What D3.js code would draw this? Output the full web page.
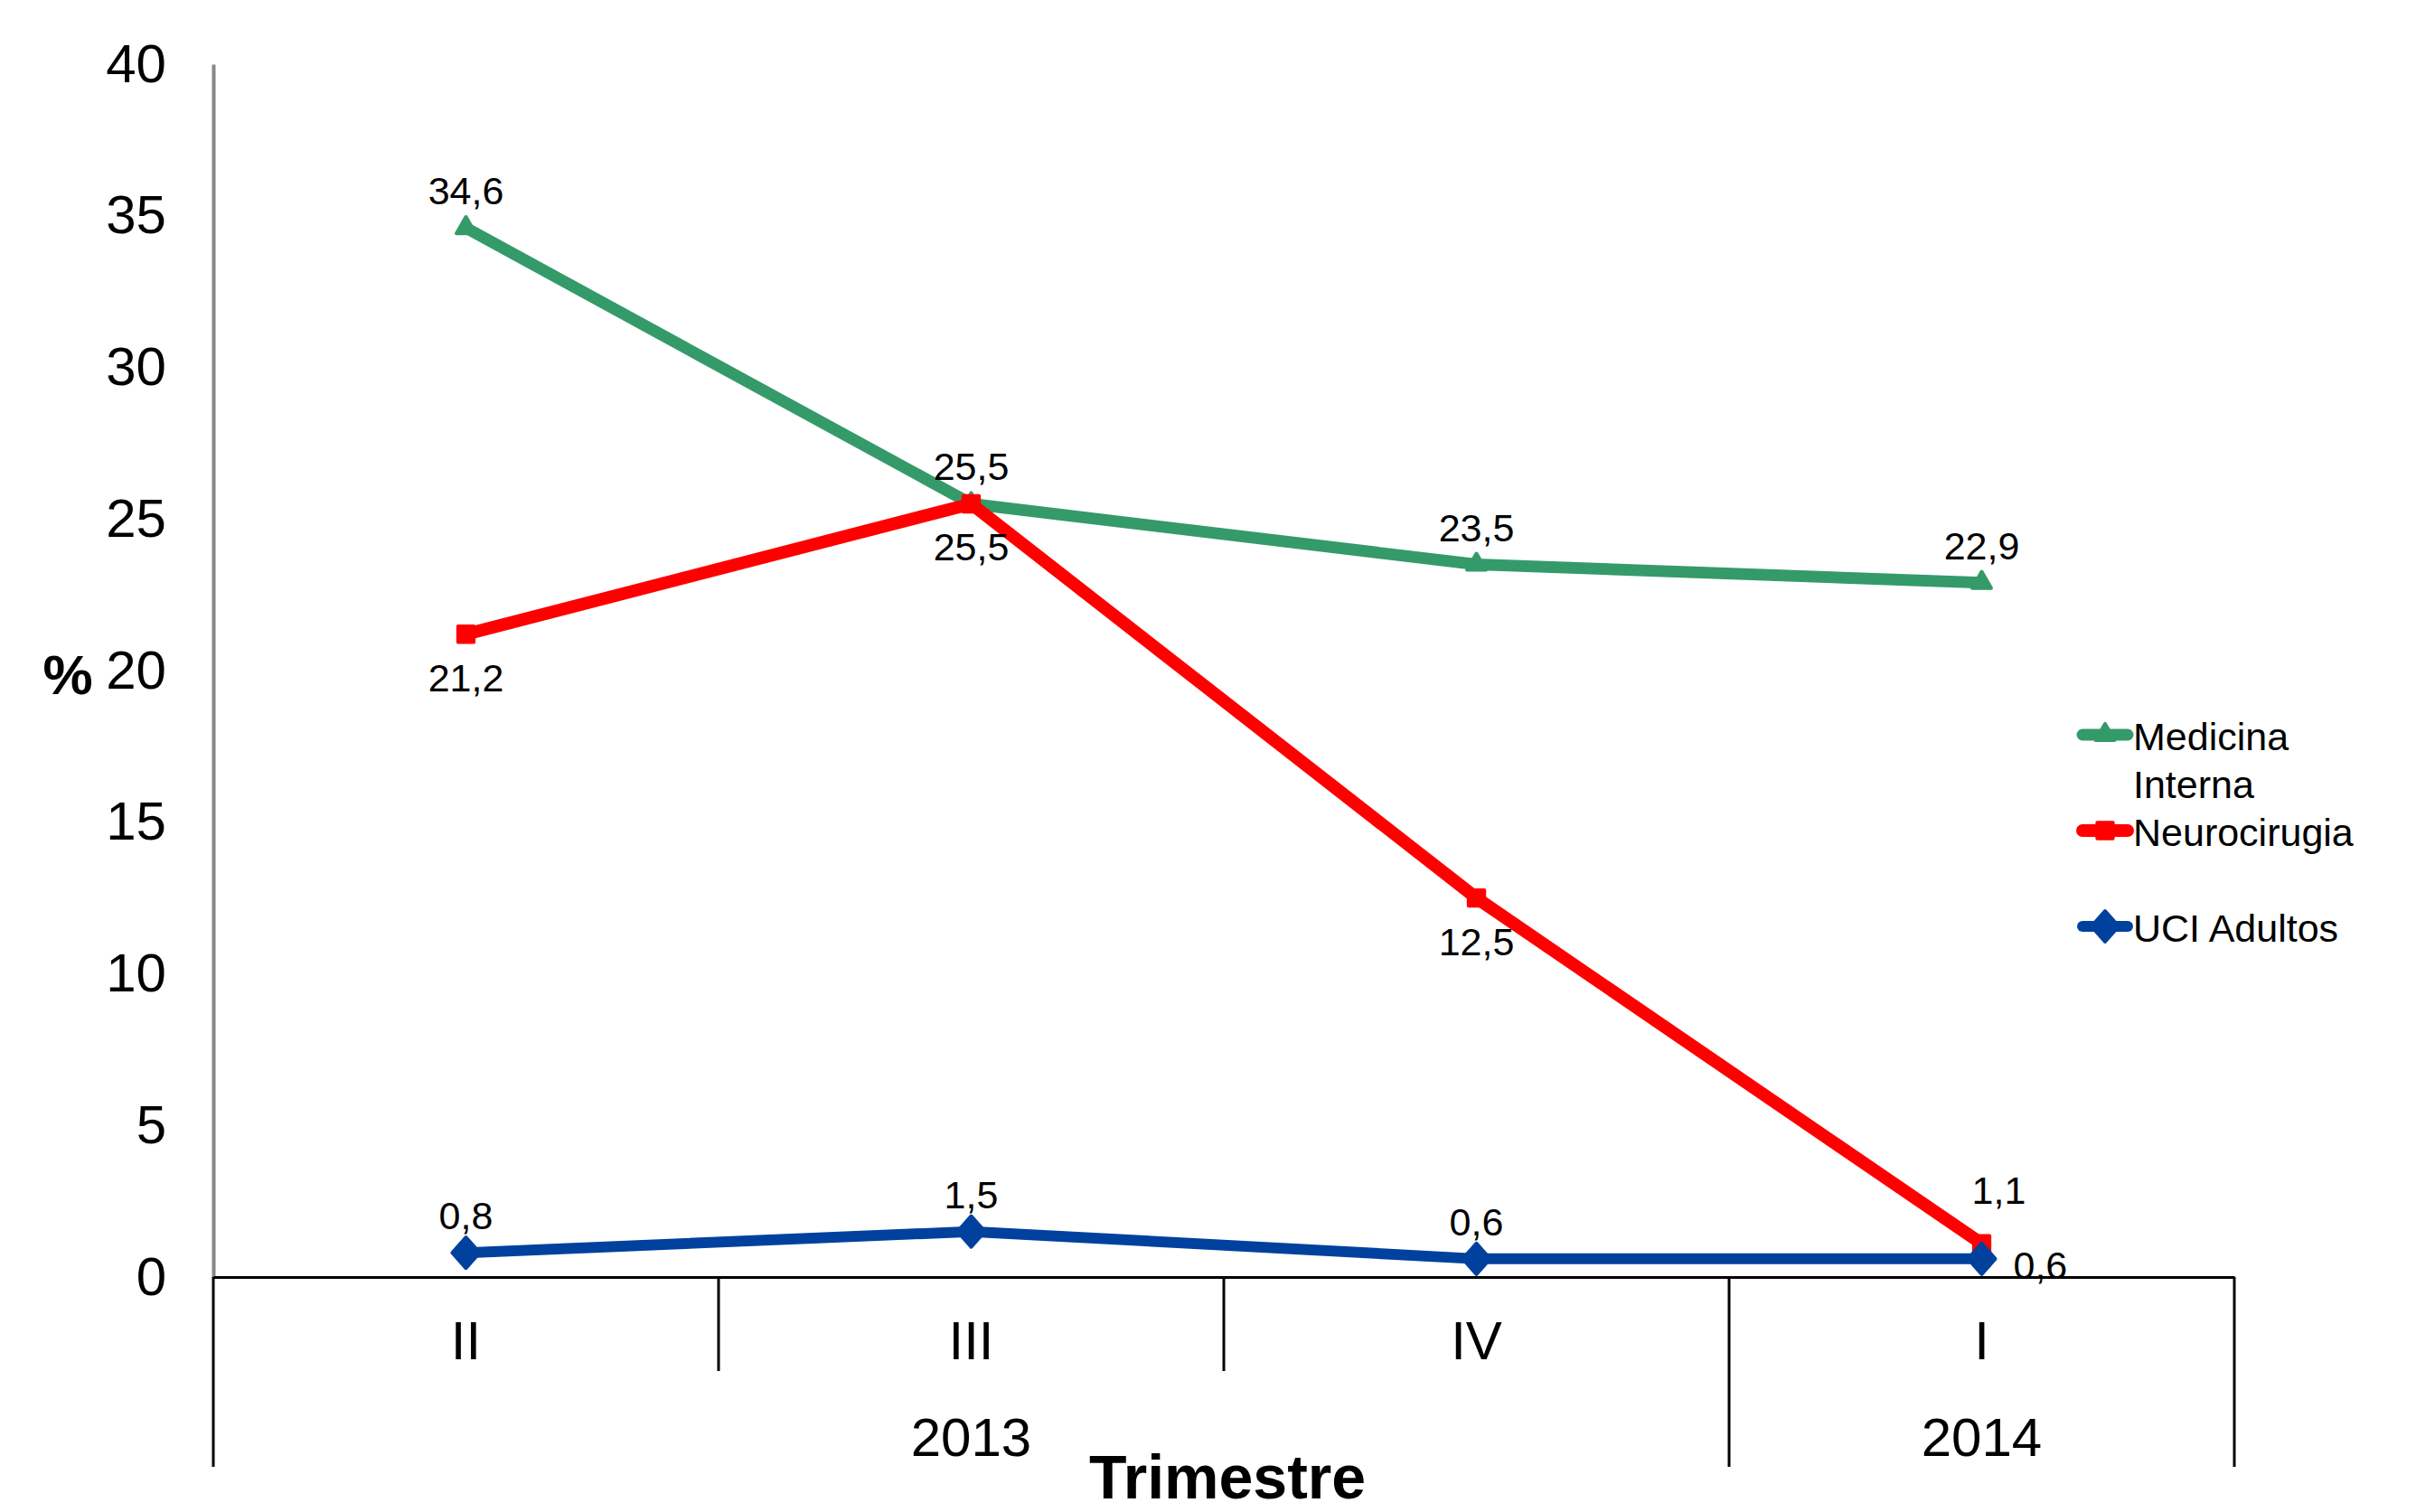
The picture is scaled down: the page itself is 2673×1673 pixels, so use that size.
<!DOCTYPE html>
<html>
<head>
<meta charset="utf-8">
<script src="https://cdn.jsdelivr.net/npm/d3@7"></script>
<style>
  body { margin: 0; background: #fff; }
  text { font-family: "Liberation Sans", Arial, sans-serif; fill: #000; }
</style>
</head>
<body>
<svg id="chart"></svg>
<script>
// Chart data.
const quarters = ["II", "III", "IV", "I"];
const years = ["2013", "2013", "2013", "2014"];
const yTicks = [0, 5, 10, 15, 20, 25, 30, 35, 40];

const seriesNames = ["Medicina Interna", "Neurocirugia", "UCI Adultos"];
const medicinaValues = [34.6, 25.5, 23.5, 22.9];
const neuroValues = [21.2, 25.5, 12.5, 1.1];
const uciValues = [0.8, 1.5, 0.6, 0.6];

// Where each value label sits relative to its point.
const medicinaLabelPos = ["above", "above", "above", "above"];
const neuroLabelPos = ["below", "below", "below", "aboveRight"];
const uciLabelPos = ["above", "above", "above", "right"];

// Set svg size and plot margins.
const width = 2673;
const height = 1673;
const margin = { top: 71, left: 236, right: 201, bottom: 260 };

const svg = d3.select("#chart")
  .attr("width", width)
  .attr("height", height);

function translate(x, y) {
  return "translate(" + String(x) + "," + String(y) + ")";
}

const xScale = d3.scaleBand()
  .domain(d3.range(quarters.length))
  .range([margin.left, width - margin.right])
  .paddingInner(0)
  .paddingOuter(0);

const yScale = d3.scaleLinear()
  .domain([0, 40])
  .range([height - margin.bottom, margin.top]);

const cx = i => xScale(i) + xScale.bandwidth() / 2;

const series = [
  { name: seriesNames[0], values: medicinaValues, labels: medicinaLabelPos,
    color: "#359a69", width: 13, marker: "triangle" },
  { name: seriesNames[1], values: neuroValues, labels: neuroLabelPos,
    color: "#ff0000", width: 14, marker: "square" },
  { name: seriesNames[2], values: uciValues, labels: uciLabelPos,
    color: "#00419e", width: 12, marker: "diamond" }
];

drawYAxis();
drawXAxis();
drawSeries();
drawLabels();
drawLegend();
drawTitles();

/*
 * y axis: gray line, no ticks, labels on the left.
 */
function drawYAxis() {
  const yAxis = d3.axisLeft(yScale)
    .tickValues(yTicks)
    .tickFormat(d3.format("d"))
    .tickSize(0)
    .tickPadding(52);

  const g = svg.append("g")
    .attr("id", "y-axis")
    .attr("transform", translate(margin.left, 0))
    .call(yAxis);

  g.select(".domain").attr("stroke", "#888").attr("stroke-width", 4);
  g.selectAll("text")
    .style("font-size", "60px")
    .attr("font-family", null);
}

/*
 * x axis with two-level category labels (quarter, year).
 */
function drawXAxis() {
  const y0 = yScale(0);

  const xAxis = d3.axisBottom(xScale)
    .tickFormat(i => quarters[i])
    .tickSize(0)
    .tickPadding(48)
    .tickSizeOuter(0);

  const g = svg.append("g")
    .attr("id", "x-axis")
    .attr("transform", translate(0, y0))
    .call(xAxis);

  g.select(".domain").attr("stroke", "#000").attr("stroke-width", 3);
  g.selectAll("text")
    .style("font-size", "60px")
    .attr("font-family", null);

  // Divider lines: long ones where the year changes, short ones otherwise.
  const bounds = d3.range(quarters.length + 1);
  svg.append("g")
    .attr("id", "dividers")
    .selectAll("line")
    .data(bounds)
    .enter()
    .append("line")
    .attr("x1", i => i < quarters.length ? xScale(i) : xScale.range()[1])
    .attr("x2", i => i < quarters.length ? xScale(i) : xScale.range()[1])
    .attr("y1", y0)
    .attr("y2", i => {
      const long = i === 0 || i === quarters.length || years[i] !== years[i - 1];
      return long ? y0 + 210 : y0 + 104;
    })
    .attr("stroke", "#000")
    .attr("stroke-width", 3);

  // Year groups.
  const groups = d3.groups(d3.range(quarters.length), i => years[i]);
  svg.append("g")
    .attr("id", "years")
    .selectAll("text")
    .data(groups)
    .enter()
    .append("text")
    .attr("x", d => {
      const first = d[1][0];
      const last = d[1][d[1].length - 1];
      return (xScale(first) + xScale(last) + xScale.bandwidth()) / 2;
    })
    .attr("y", y0 + 198)
    .attr("text-anchor", "middle")
    .style("font-size", "60px")
    .text(d => d[0]);
}

function markerPath(type) {
  if (type === "triangle") {
    return d3.symbol(d3.symbolTriangle, 190)();
  }
  if (type === "square") {
    return d3.symbol(d3.symbolSquare, 300)();
  }
  // diamond
  return "M0,-17L15,0L0,17L-15,0Z";
}

/*
 * Lines and markers.
 */
function drawSeries() {
  const line = d3.line()
    .x((d, i) => cx(i))
    .y(d => yScale(d));

  const g = svg.append("g").attr("id", "series");

  series.forEach(s => {
    g.append("path")
      .datum(s.values)
      .attr("d", line)
      .attr("fill", "none")
      .attr("stroke", s.color)
      .attr("stroke-width", s.width)
      .attr("stroke-linejoin", "round");

    g.selectAll(null)
      .data(s.values)
      .enter()
      .append("path")
      .attr("transform", (d, i) => translate(cx(i), yScale(d)))
      .attr("d", markerPath(s.marker))
      .attr("fill", s.color)
      .attr("stroke", s.color)
      .attr("stroke-width", 4)
      .attr("stroke-linejoin", "round");
  });
}

/*
 * Value labels with decimal comma.
 */
function drawLabels() {
  const fmt = d => d3.format(".1f")(d).replace(".", ",");
  const g = svg.append("g").attr("id", "labels");

  series.forEach(s => {
    g.selectAll(null)
      .data(s.values)
      .enter()
      .append("text")
      .attr("x", (d, i) => {
        const p = s.labels[i];
        if (p === "aboveRight") return cx(i) + 19;
        if (p === "right") return cx(i) + 35;
        return cx(i);
      })
      .attr("y", (d, i) => {
        const p = s.labels[i];
        if (p === "below") return yScale(d) + 63;
        if (p === "aboveRight") return yScale(d) - 44;
        if (p === "right") return yScale(d) + 22;
        return yScale(d) - 26;
      })
      .attr("text-anchor", (d, i) => s.labels[i] === "right" ? "start" : "middle")
      .style("font-size", "43px")
      .text(fmt);
  });
}

/*
 * Legend on the right.
 */
function drawLegend() {
  const legend = svg.append("g")
    .attr("id", "legend")
    .attr("transform", translate(2298, 813));

  const rows = legend.selectAll("g")
    .data(series)
    .enter()
    .append("g")
    .attr("transform", (d, i) => translate(0, i * 106));

  rows.append("line")
    .attr("x1", 6)
    .attr("x2", 56)
    .attr("stroke", d => d.color)
    .attr("stroke-width", d => d.width)
    .attr("stroke-linecap", "round");

  rows.append("path")
    .attr("transform", translate(31, 0))
    .attr("d", d => markerPath(d.marker))
    .attr("fill", d => d.color)
    .attr("stroke", d => d.color)
    .attr("stroke-width", 4)
    .attr("stroke-linejoin", "round");

  // Long names wrap onto two lines.
  rows.append("text")
    .attr("x", 62)
    .attr("y", 17)
    .style("font-size", "43px")
    .each(function(d) {
      const words = d.name === "Medicina Interna" ? ["Medicina", "Interna"] : [d.name];
      d3.select(this).selectAll("tspan")
        .data(words)
        .enter()
        .append("tspan")
        .attr("x", 62)
        .attr("dy", (w, i) => i === 0 ? 0 : 53)
        .text(w => w);
    });
}

function drawTitles() {
  svg.append("text")
    .attr("x", 75)
    .attr("y", 768)
    .attr("text-anchor", "middle")
    .style("font-size", "62px")
    .style("font-weight", "bold")
    .text("%");

  svg.append("text")
    .attr("x", (xScale.range()[0] + xScale.range()[1]) / 2 + 4)
    .attr("y", 1658)
    .attr("text-anchor", "middle")
    .style("font-size", "68px")
    .style("font-weight", "bold")
    .text("Trimestre");
}
</script>
</body>
</html>
